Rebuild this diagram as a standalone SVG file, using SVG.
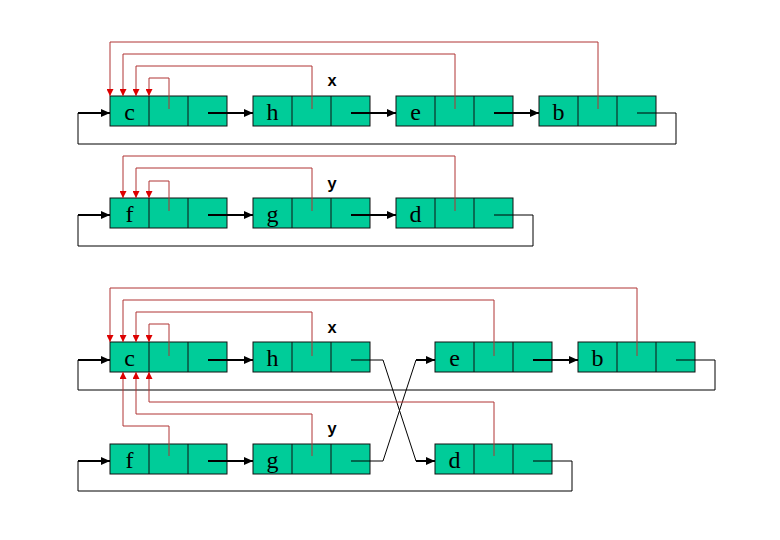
<svg xmlns="http://www.w3.org/2000/svg" width="780" height="540" viewBox="0 0 780 540">
<defs>
<style>
.box{fill:#00CC99;stroke:#111;stroke-width:1}
.div{stroke:#111;stroke-width:1}
.lt{font-family:"Liberation Serif","Times New Roman",serif;font-size:24px;fill:#000;text-anchor:middle}
.lbl{font-family:"Liberation Mono","Courier New",monospace;font-size:16px;font-weight:bold;fill:#000;text-anchor:middle}
.red{fill:none;stroke:#B03535;stroke-width:1;marker-end:url(#ra)}
.thin{fill:none;stroke:#000;stroke-width:1}
.thick{fill:none;stroke:#000;stroke-width:2;marker-end:url(#ba)}
</style>
<marker id="ra" markerUnits="userSpaceOnUse" markerWidth="7" markerHeight="7" refX="7" refY="3.5" orient="auto">
<path d="M0,0 L7,3.5 L0,7 z" fill="#DD0000"/>
</marker>
<marker id="ba" markerUnits="userSpaceOnUse" markerWidth="9" markerHeight="8" refX="9" refY="4" orient="auto">
<path d="M0,0 L9,4 L0,8 z" fill="#000"/>
</marker>
</defs>
<rect width="780" height="540" fill="#fff"/>

<g id="n-c"><rect class="box" x="110" y="96" width="117" height="30"/><line class="div" x1="149" y1="96" x2="149" y2="126"/><line class="div" x1="188" y1="96" x2="188" y2="126"/><text class="lt" x="129.5" y="120">c</text></g>
<g id="n-h"><rect class="box" x="253" y="96" width="117" height="30"/><line class="div" x1="292" y1="96" x2="292" y2="126"/><line class="div" x1="331" y1="96" x2="331" y2="126"/><text class="lt" x="272.5" y="120">h</text></g>
<g id="n-e"><rect class="box" x="396" y="96" width="117" height="30"/><line class="div" x1="435" y1="96" x2="435" y2="126"/><line class="div" x1="474" y1="96" x2="474" y2="126"/><text class="lt" x="415.5" y="120">e</text></g>
<g id="n-b"><rect class="box" x="539" y="96" width="117" height="30"/><line class="div" x1="578" y1="96" x2="578" y2="126"/><line class="div" x1="617" y1="96" x2="617" y2="126"/><text class="lt" x="558.5" y="120">b</text></g>

<g id="n-f"><rect class="box" x="110" y="198" width="117" height="30"/><line class="div" x1="149" y1="198" x2="149" y2="228"/><line class="div" x1="188" y1="198" x2="188" y2="228"/><text class="lt" x="129.5" y="222">f</text></g>
<g id="n-g"><rect class="box" x="253" y="198" width="117" height="30"/><line class="div" x1="292" y1="198" x2="292" y2="228"/><line class="div" x1="331" y1="198" x2="331" y2="228"/><text class="lt" x="272.5" y="222">g</text></g>
<g id="n-d"><rect class="box" x="396" y="198" width="117" height="30"/><line class="div" x1="435" y1="198" x2="435" y2="228"/><line class="div" x1="474" y1="198" x2="474" y2="228"/><text class="lt" x="415.5" y="222">d</text></g>

<g id="n-c2"><rect class="box" x="110" y="342" width="117" height="30"/><line class="div" x1="149" y1="342" x2="149" y2="372"/><line class="div" x1="188" y1="342" x2="188" y2="372"/><text class="lt" x="129.5" y="366">c</text></g>
<g id="n-h2"><rect class="box" x="253" y="342" width="117" height="30"/><line class="div" x1="292" y1="342" x2="292" y2="372"/><line class="div" x1="331" y1="342" x2="331" y2="372"/><text class="lt" x="272.5" y="366">h</text></g>
<g id="n-e2"><rect class="box" x="435" y="342" width="117" height="30"/><line class="div" x1="474" y1="342" x2="474" y2="372"/><line class="div" x1="513" y1="342" x2="513" y2="372"/><text class="lt" x="454.5" y="366">e</text></g>
<g id="n-b2"><rect class="box" x="578" y="342" width="117" height="30"/><line class="div" x1="617" y1="342" x2="617" y2="372"/><line class="div" x1="656" y1="342" x2="656" y2="372"/><text class="lt" x="597.5" y="366">b</text></g>
<g id="n-f2"><rect class="box" x="110" y="444" width="117" height="30"/><line class="div" x1="149" y1="444" x2="149" y2="474"/><line class="div" x1="188" y1="444" x2="188" y2="474"/><text class="lt" x="129.5" y="468">f</text></g>
<g id="n-g2"><rect class="box" x="253" y="444" width="117" height="30"/><line class="div" x1="292" y1="444" x2="292" y2="474"/><line class="div" x1="331" y1="444" x2="331" y2="474"/><text class="lt" x="272.5" y="468">g</text></g>
<g id="n-d2"><rect class="box" x="435" y="444" width="117" height="30"/><line class="div" x1="474" y1="444" x2="474" y2="474"/><line class="div" x1="513" y1="444" x2="513" y2="474"/><text class="lt" x="454.5" y="468">d</text></g>

<g id="connectors">
<!-- top list -->
<line class="thick" x1="208" y1="113" x2="253" y2="113"/>
<line class="thick" x1="351" y1="113" x2="396" y2="113"/>
<line class="thick" x1="494" y1="113" x2="539" y2="113"/>
<polyline class="thin" points="637,113 676,113 676,144 78,144 78,113"/>
<line class="thick" x1="78" y1="113" x2="110" y2="113"/>
<polyline class="red" points="169,109 169,78 149,78 149,96"/>
<polyline class="red" points="312,109 312,66 136,66 136,96"/>
<polyline class="red" points="455,109 455,54 123,54 123,96"/>
<polyline class="red" points="598,109 598,42 110,42 110,96"/>
<!-- second list -->
<line class="thick" x1="208" y1="215" x2="253" y2="215"/>
<line class="thick" x1="351" y1="215" x2="396" y2="215"/>
<polyline class="thin" points="494,215 533,215 533,246 78,246 78,215"/>
<line class="thick" x1="78" y1="215" x2="110" y2="215"/>
<polyline class="red" points="169,211 169,181 149,181 149,198"/>
<polyline class="red" points="312,211 312,168 136,168 136,198"/>
<polyline class="red" points="455,211 455,156 123,156 123,198"/>
<!-- bottom section -->
<line class="thick" x1="208" y1="360" x2="253" y2="360"/>
<polyline class="thin" points="351,360 383,360 416,461"/>
<line class="thick" x1="416" y1="461" x2="435" y2="461"/>
<line class="thick" x1="533" y1="360" x2="578" y2="360"/>
<polyline class="thin" points="676,360 715,360 715,390 78,390 78,360"/>
<line class="thick" x1="78" y1="360" x2="110" y2="360"/>
<line class="thick" x1="208" y1="461" x2="253" y2="461"/>
<polyline class="thin" points="351,461 383,461 416,360"/>
<line class="thick" x1="416" y1="360" x2="435" y2="360"/>
<polyline class="thin" points="533,461 572,461 572,491 78,491 78,461"/>
<line class="thick" x1="78" y1="461" x2="110" y2="461"/>
<polyline class="red" points="169,356 169,324 149,324 149,342"/>
<polyline class="red" points="312,356 312,312 136,312 136,342"/>
<polyline class="red" points="494,356 494,300 123,300 123,342"/>
<polyline class="red" points="637,356 637,288 110,288 110,342"/>
<polyline class="red" points="169,456 169,426 123,426 123,372"/>
<polyline class="red" points="312,456 312,414 136,414 136,372"/>
<polyline class="red" points="494,456 494,402 149,402 149,372"/>
</g>

<g id="labels">
<text class="lbl" x="332" y="86">x</text>
<text class="lbl" x="332" y="189">y</text>
<text class="lbl" x="332" y="333">x</text>
<text class="lbl" x="332" y="434">y</text>
</g>
</svg>
